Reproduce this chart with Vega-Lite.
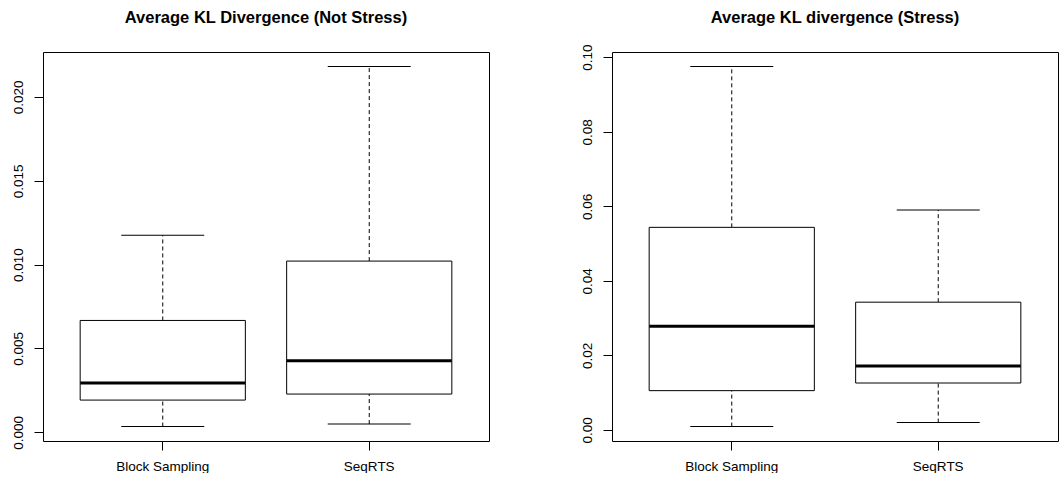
{
  "$schema": "https://vega.github.io/schema/vega-lite/v6.json",
  "background": "white",
  "padding": {"left": 10, "top": 9, "right": 0, "bottom": 0},
  "spacing": 89,
  "config": {
    "font": "Liberation Sans",
    "view": {"stroke": "black", "strokeWidth": 1},
    "axis": {"grid": false, "domain": false, "tickColor": "black", "tickSize": 9, "labelColor": "black", "labelFontSize": 13.5, "labelFont": "Liberation Sans", "title": null},
    "axisY": {"labelAngle": -90, "labelAlign": "center", "labelBaseline": "bottom", "labelPadding": 9},
    "axisX": {"labelAngle": 0, "labelPadding": 9},
    "tick": {"opacity": 1},
    "title": {"fontSize": 16.5, "fontWeight": "bold", "color": "black", "frame": "group", "anchor": "middle", "font": "Liberation Sans"}
  },
  "datasets": {
    "kl": [
      {"panel": "Not Stress", "group": "Block Sampling", "lower": 0.00034, "q1": 0.00192, "median": 0.00294, "q3": 0.00667, "upper": 0.01175},
      {"panel": "Not Stress", "group": "SeqRTS", "lower": 0.00049, "q1": 0.00228, "median": 0.00426, "q3": 0.01021, "upper": 0.02182},
      {"panel": "Stress", "group": "Block Sampling", "lower": 0.00089, "q1": 0.01053, "median": 0.02784, "q3": 0.05435, "upper": 0.09754},
      {"panel": "Stress", "group": "SeqRTS", "lower": 0.00196, "q1": 0.01258, "median": 0.01713, "q3": 0.03427, "upper": 0.05899}
    ]
  },
  "hconcat": [
    {
      "width": 446, "height": 389,
      "title": {"text": "Average KL Divergence (Not Stress)", "offset": 26},
      "data": {"name": "kl"},
      "transform": [{"filter": "datum.panel === 'Not Stress'"}],
      "encoding": {
        "x": {"field": "group", "type": "nominal", "scale": {"domain": ["Block Sampling", "SeqRTS"], "paddingInner": 0.2, "paddingOuter": 0.18}, "axis": {"title": null}}
      },
      "layer": [
        {"mark": {"type": "rule", "color": "black", "strokeWidth": 1, "strokeDash": [4, 3]},
         "encoding": {"y": {"field": "lower", "type": "quantitative", "scale": {"domain": [-0.00052, 0.02268], "nice": false, "zero": false}, "axis": {"values": [0, 0.005, 0.01, 0.015, 0.02], "format": ".3f", "title": null}}, "y2": {"field": "q1"}}},
        {"mark": {"type": "rule", "color": "black", "strokeWidth": 1, "strokeDash": [4, 3]},
         "encoding": {"y": {"field": "q3", "type": "quantitative", "scale": {"domain": [-0.00052, 0.02268], "nice": false, "zero": false}, "axis": {"values": [0, 0.005, 0.01, 0.015, 0.02], "format": ".3f", "title": null}}, "y2": {"field": "upper"}}},
        {"mark": {"type": "tick", "color": "black", "size": 83, "thickness": 1},
         "encoding": {"y": {"field": "lower", "type": "quantitative", "scale": {"domain": [-0.00052, 0.02268], "nice": false, "zero": false}, "axis": {"values": [0, 0.005, 0.01, 0.015, 0.02], "format": ".3f", "title": null}}}},
        {"mark": {"type": "tick", "color": "black", "size": 83, "thickness": 1},
         "encoding": {"y": {"field": "upper", "type": "quantitative", "scale": {"domain": [-0.00052, 0.02268], "nice": false, "zero": false}, "axis": {"values": [0, 0.005, 0.01, 0.015, 0.02], "format": ".3f", "title": null}}}},
        {"mark": {"type": "bar", "fill": "white", "stroke": "black", "strokeWidth": 1},
         "encoding": {"y": {"field": "q1", "type": "quantitative", "scale": {"domain": [-0.00052, 0.02268], "nice": false, "zero": false}, "axis": {"values": [0, 0.005, 0.01, 0.015, 0.02], "format": ".3f", "title": null}}, "y2": {"field": "q3"}}},
        {"mark": {"type": "tick", "color": "black", "size": 165, "thickness": 3},
         "encoding": {"y": {"field": "median", "type": "quantitative", "scale": {"domain": [-0.00052, 0.02268], "nice": false, "zero": false}, "axis": {"values": [0, 0.005, 0.01, 0.015, 0.02], "format": ".3f", "title": null}}}}
      ]
    },
    {
      "width": 446, "height": 389,
      "title": {"text": "Average KL divergence (Stress)", "offset": 18},
      "data": {"name": "kl"},
      "transform": [{"filter": "datum.panel === 'Stress'"}],
      "encoding": {
        "x": {"field": "group", "type": "nominal", "scale": {"domain": ["Block Sampling", "SeqRTS"], "paddingInner": 0.2, "paddingOuter": 0.18}, "axis": {"title": null}}
      },
      "layer": [
        {"mark": {"type": "rule", "color": "black", "strokeWidth": 1, "strokeDash": [4, 3]},
         "encoding": {"y": {"field": "lower", "type": "quantitative", "scale": {"domain": [-0.00298, 0.1014], "nice": false, "zero": false}, "axis": {"values": [0, 0.02, 0.04, 0.06, 0.08, 0.1], "format": ".2f", "title": null}}, "y2": {"field": "q1"}}},
        {"mark": {"type": "rule", "color": "black", "strokeWidth": 1, "strokeDash": [4, 3]},
         "encoding": {"y": {"field": "q3", "type": "quantitative", "scale": {"domain": [-0.00298, 0.1014], "nice": false, "zero": false}, "axis": {"values": [0, 0.02, 0.04, 0.06, 0.08, 0.1], "format": ".2f", "title": null}}, "y2": {"field": "upper"}}},
        {"mark": {"type": "tick", "color": "black", "size": 83, "thickness": 1},
         "encoding": {"y": {"field": "lower", "type": "quantitative", "scale": {"domain": [-0.00298, 0.1014], "nice": false, "zero": false}, "axis": {"values": [0, 0.02, 0.04, 0.06, 0.08, 0.1], "format": ".2f", "title": null}}}},
        {"mark": {"type": "tick", "color": "black", "size": 83, "thickness": 1},
         "encoding": {"y": {"field": "upper", "type": "quantitative", "scale": {"domain": [-0.00298, 0.1014], "nice": false, "zero": false}, "axis": {"values": [0, 0.02, 0.04, 0.06, 0.08, 0.1], "format": ".2f", "title": null}}}},
        {"mark": {"type": "bar", "fill": "white", "stroke": "black", "strokeWidth": 1},
         "encoding": {"y": {"field": "q1", "type": "quantitative", "scale": {"domain": [-0.00298, 0.1014], "nice": false, "zero": false}, "axis": {"values": [0, 0.02, 0.04, 0.06, 0.08, 0.1], "format": ".2f", "title": null}}, "y2": {"field": "q3"}}},
        {"mark": {"type": "tick", "color": "black", "size": 165, "thickness": 3},
         "encoding": {"y": {"field": "median", "type": "quantitative", "scale": {"domain": [-0.00298, 0.1014], "nice": false, "zero": false}, "axis": {"values": [0, 0.02, 0.04, 0.06, 0.08, 0.1], "format": ".2f", "title": null}}}}
      ]
    }
  ]
}
